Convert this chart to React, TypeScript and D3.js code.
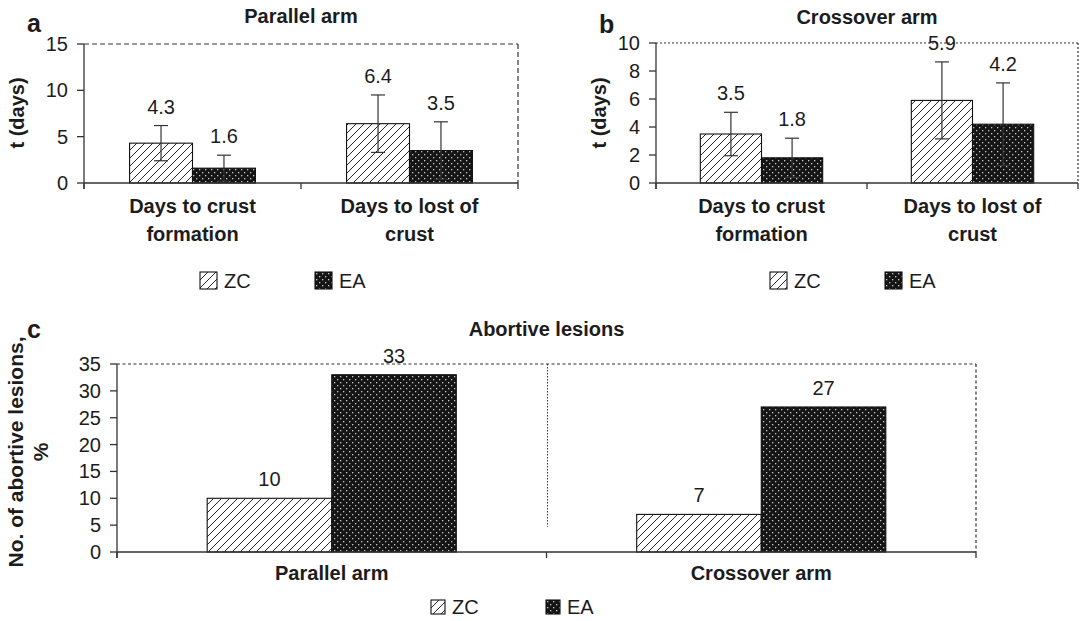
import React from "react";
import * as d3 from "d3";

// ---- data ----
const seriesNames = ["ZC", "EA"];
const timeCategories = [
  ["Days to crust", "formation"],
  ["Days to lost of", "crust"],
];
const parallelZC = [4.3, 6.4];
const parallelEA = [1.6, 3.5];
const parallelZCErr = [1.9, 3.1];
const parallelEAErr = [1.4, 3.1];
const parallelTicks = [0, 5, 10, 15];

const crossoverZC = [3.5, 5.9];
const crossoverEA = [1.8, 4.2];
const crossoverZCErr = [1.55, 2.75];
const crossoverEAErr = [1.4, 2.95];
const crossoverTicks = [0, 2, 4, 6, 8, 10];

const abortiveCategories = [["Parallel arm"], ["Crossover arm"]];
const abortiveZC = [10, 7];
const abortiveEA = [33, 27];
const abortiveTicks = [0, 5, 10, 15, 20, 25, 30, 35];

const FONT = "'Liberation Sans', Arial, Helvetica, sans-serif";
const INK = "#1c1c1c";
const AXIS = "#333";

type PanelProps = {
  x0: number;
  x1: number;
  yTop: number;
  yBottom: number;
  ticks: number[];
  categories: string[][];
  zc: number[];
  ea: number[];
  zcErr?: number[];
  eaErr?: number[];
  frameDash: string;
  title: string;
  titleY: number;
  titleSize: number;
  letter: string;
  letterX: number;
  letterY: number;
  yLabel: string[];
  yLabelX: number;
  yLabelY: number;
  yLabelSize: number;
  catY: number;
  splitTo?: number;
};

function Panel(p: PanelProps) {
  const maxY = p.ticks[p.ticks.length - 1];
  const y = d3.scaleLinear().domain([0, maxY]).range([p.yBottom, p.yTop]);
  const band = d3
    .scaleBand<number>()
    .domain(p.categories.map((_, i) => i))
    .range([p.x0, p.x1])
    .paddingInner(0)
    .paddingOuter(0);
  const bw = band.bandwidth();
  const barW = bw * 0.29;
  const boundaries = [p.x0, ...p.categories.map((_, i) => (band(i) as number) + bw)];

  const errBar = (cx: number, v: number, e: number, key: string) => (
    <g key={key} stroke={AXIS} strokeWidth={1.2}>
      <line x1={cx} x2={cx} y1={y(v - e)} y2={y(v + e)} />
      <line x1={cx - 7} x2={cx + 7} y1={y(v + e)} y2={y(v + e)} />
      <line x1={cx - 7} x2={cx + 7} y1={y(v - e)} y2={y(v - e)} />
    </g>
  );

  return (
    <g fontFamily={FONT} fill={INK}>
      {/* frame: dashed top and right edges */}
      <line x1={p.x0} x2={p.x1} y1={p.yTop} y2={p.yTop} stroke={AXIS} strokeWidth={1.2} strokeDasharray={p.frameDash} />
      <line x1={p.x1} x2={p.x1} y1={p.yTop} y2={p.yBottom} stroke={AXIS} strokeWidth={1.2} strokeDasharray={p.frameDash} />
      {p.splitTo !== undefined && (
        <line
          x1={boundaries[1] + 1}
          x2={boundaries[1] + 1}
          y1={p.yTop}
          y2={y(p.splitTo)}
          stroke={AXIS}
          strokeWidth={1}
          strokeDasharray="1.5,1.5"
        />
      )}

      {/* bars */}
      {p.categories.map((_, i) => {
        const cx = (band(i) as number) + bw / 2;
        return (
          <g key={"b" + i}>
            <rect x={cx - barW} y={y(p.zc[i])} width={barW} height={p.yBottom - y(p.zc[i])} fill="url(#hatch)" stroke="#111" strokeWidth={1.1} />
            <rect x={cx} y={y(p.ea[i])} width={barW} height={p.yBottom - y(p.ea[i])} fill="url(#dots)" stroke="#111" strokeWidth={1.1} />
          </g>
        );
      })}

      {/* error bars */}
      {p.zcErr && p.categories.map((_, i) => errBar((band(i) as number) + bw / 2 - barW / 2, p.zc[i], p.zcErr![i], "ez" + i))}
      {p.eaErr && p.categories.map((_, i) => errBar((band(i) as number) + bw / 2 + barW / 2, p.ea[i], p.eaErr![i], "ee" + i))}

      {/* value labels */}
      {p.categories.map((_, i) => {
        const cx = (band(i) as number) + bw / 2;
        const topZ = p.zc[i] + (p.zcErr ? p.zcErr[i] : 0);
        const topE = p.ea[i] + (p.eaErr ? p.eaErr[i] : 0);
        return (
          <g key={"v" + i} fontSize={20} textAnchor="middle">
            <text x={cx - barW / 2} y={y(topZ) - 19} dy="0.35em">{p.zc[i]}</text>
            <text x={cx + barW / 2} y={y(topE) - 19} dy="0.35em">{p.ea[i]}</text>
          </g>
        );
      })}

      {/* axes */}
      <line x1={p.x0} x2={p.x0} y1={p.yTop} y2={p.yBottom + 6} stroke={AXIS} strokeWidth={1.3} />
      <line x1={p.x0} x2={p.x1} y1={p.yBottom} y2={p.yBottom} stroke={AXIS} strokeWidth={1.3} />
      {boundaries.map((bx, i) => (
        <line key={"xt" + i} x1={bx} x2={bx} y1={p.yBottom} y2={p.yBottom + 6} stroke={AXIS} strokeWidth={1.3} />
      ))}
      {p.ticks.map((t) => (
        <g key={"yt" + t}>
          <line x1={p.x0 - 7} x2={p.x0} y1={y(t)} y2={y(t)} stroke={AXIS} strokeWidth={1.3} />
          <text x={p.x0 - 16} y={y(t)} dy="0.35em" fontSize={20} textAnchor="end">{t}</text>
        </g>
      ))}

      {/* category labels */}
      {p.categories.map((lines, i) => (
        <text key={"c" + i} x={(band(i) as number) + bw / 2} y={p.catY} fontSize={20} fontWeight="bold" textAnchor="middle">
          {lines.map((ln, j) => (
            <tspan key={j} x={(band(i) as number) + bw / 2} dy={j === 0 ? 0 : 28}>{ln}</tspan>
          ))}
        </text>
      ))}

      {/* titles */}
      <text x={(p.x0 + p.x1) / 2} y={p.titleY} fontSize={p.titleSize} fontWeight="bold" textAnchor="middle">{p.title}</text>
      <text x={p.letterX} y={p.letterY} fontSize={25} fontWeight="bold">{p.letter}</text>
      <g transform={`translate(${p.yLabelX},${p.yLabelY}) rotate(-90)`}>
        {p.yLabel.map((ln, j) => (
          <text key={j} x={0} y={j * 25} dy="0.35em" fontSize={p.yLabelSize} fontWeight="bold" textAnchor="middle">{ln}</text>
        ))}
      </g>
    </g>
  );
}

function Legend({ x, y, size, gap }: { x: number; y: number; size: number; gap: number }) {
  return (
    <g fontFamily={FONT} fill={INK} fontSize={20}>
      {seriesNames.map((name, i) => (
        <g key={name} transform={`translate(${x + i * gap},${y})`}>
          <rect x={0} y={0} width={size} height={size} fill={i === 0 ? "url(#hatch)" : "url(#dots)"} stroke="#111" strokeWidth={1.1} />
          <text x={size + 7} y={size / 2} dy="0.36em">{name}</text>
        </g>
      ))}
    </g>
  );
}

export default function App() {
  return (
    <svg width={1080} height={621} viewBox="0 0 1080 621" style={{ position: "absolute", left: 0, top: 0, background: "#fff" }}>
      <defs>
        <pattern id="hatch" patternUnits="userSpaceOnUse" width={8} height={8}>
          <rect width={8} height={8} fill="#fff" />
          <path d="M-2,2 L2,-2 M0,8 L8,0 M6,10 L10,6" stroke="#111" strokeWidth={0.9} />
        </pattern>
        <pattern id="dots" patternUnits="userSpaceOnUse" width={6} height={6}>
          <rect width={6} height={6} fill="#151515" />
          <rect x={1} y={1} width={1.3} height={1.3} fill="#c8c8c8" />
          <rect x={4} y={4} width={1.3} height={1.3} fill="#c8c8c8" />
        </pattern>
      </defs>

      <Panel
        x0={84} x1={518} yTop={44} yBottom={183}
        ticks={parallelTicks} categories={timeCategories}
        zc={parallelZC} ea={parallelEA} zcErr={parallelZCErr} eaErr={parallelEAErr}
        frameDash="5,3" title="Parallel arm" titleY={23} titleSize={20}
        letter="a" letterX={27} letterY={32}
        yLabel={["t (days)"]} yLabelX={17} yLabelY={113} yLabelSize={20}
        catY={213}
      />
      <Legend x={200} y={272} size={17} gap={115} />

      <Panel
        x0={656} x1={1078} yTop={43} yBottom={183}
        ticks={crossoverTicks} categories={timeCategories}
        zc={crossoverZC} ea={crossoverEA} zcErr={crossoverZCErr} eaErr={crossoverEAErr}
        frameDash="2,2" title="Crossover arm" titleY={24} titleSize={20}
        letter="b" letterX={599} letterY={33}
        yLabel={["t (days)"]} yLabelX={599} yLabelY={113} yLabelSize={20}
        catY={213}
      />
      <Legend x={770} y={272} size={17} gap={115} />

      <Panel
        x0={117} x1={976} yTop={364} yBottom={552}
        ticks={abortiveTicks} categories={abortiveCategories}
        zc={abortiveZC} ea={abortiveEA}
        frameDash="3,2.5" title="Abortive lesions" titleY={336} titleSize={20}
        letter="c" letterX={27} letterY={338}
        yLabel={["No. of abortive lesions,", "%"]} yLabelX={16} yLabelY={452} yLabelSize={21}
        catY={580} splitTo={4.7}
      />
      <Legend x={431} y={600} size={14} gap={115} />
    </svg>
  );
}
